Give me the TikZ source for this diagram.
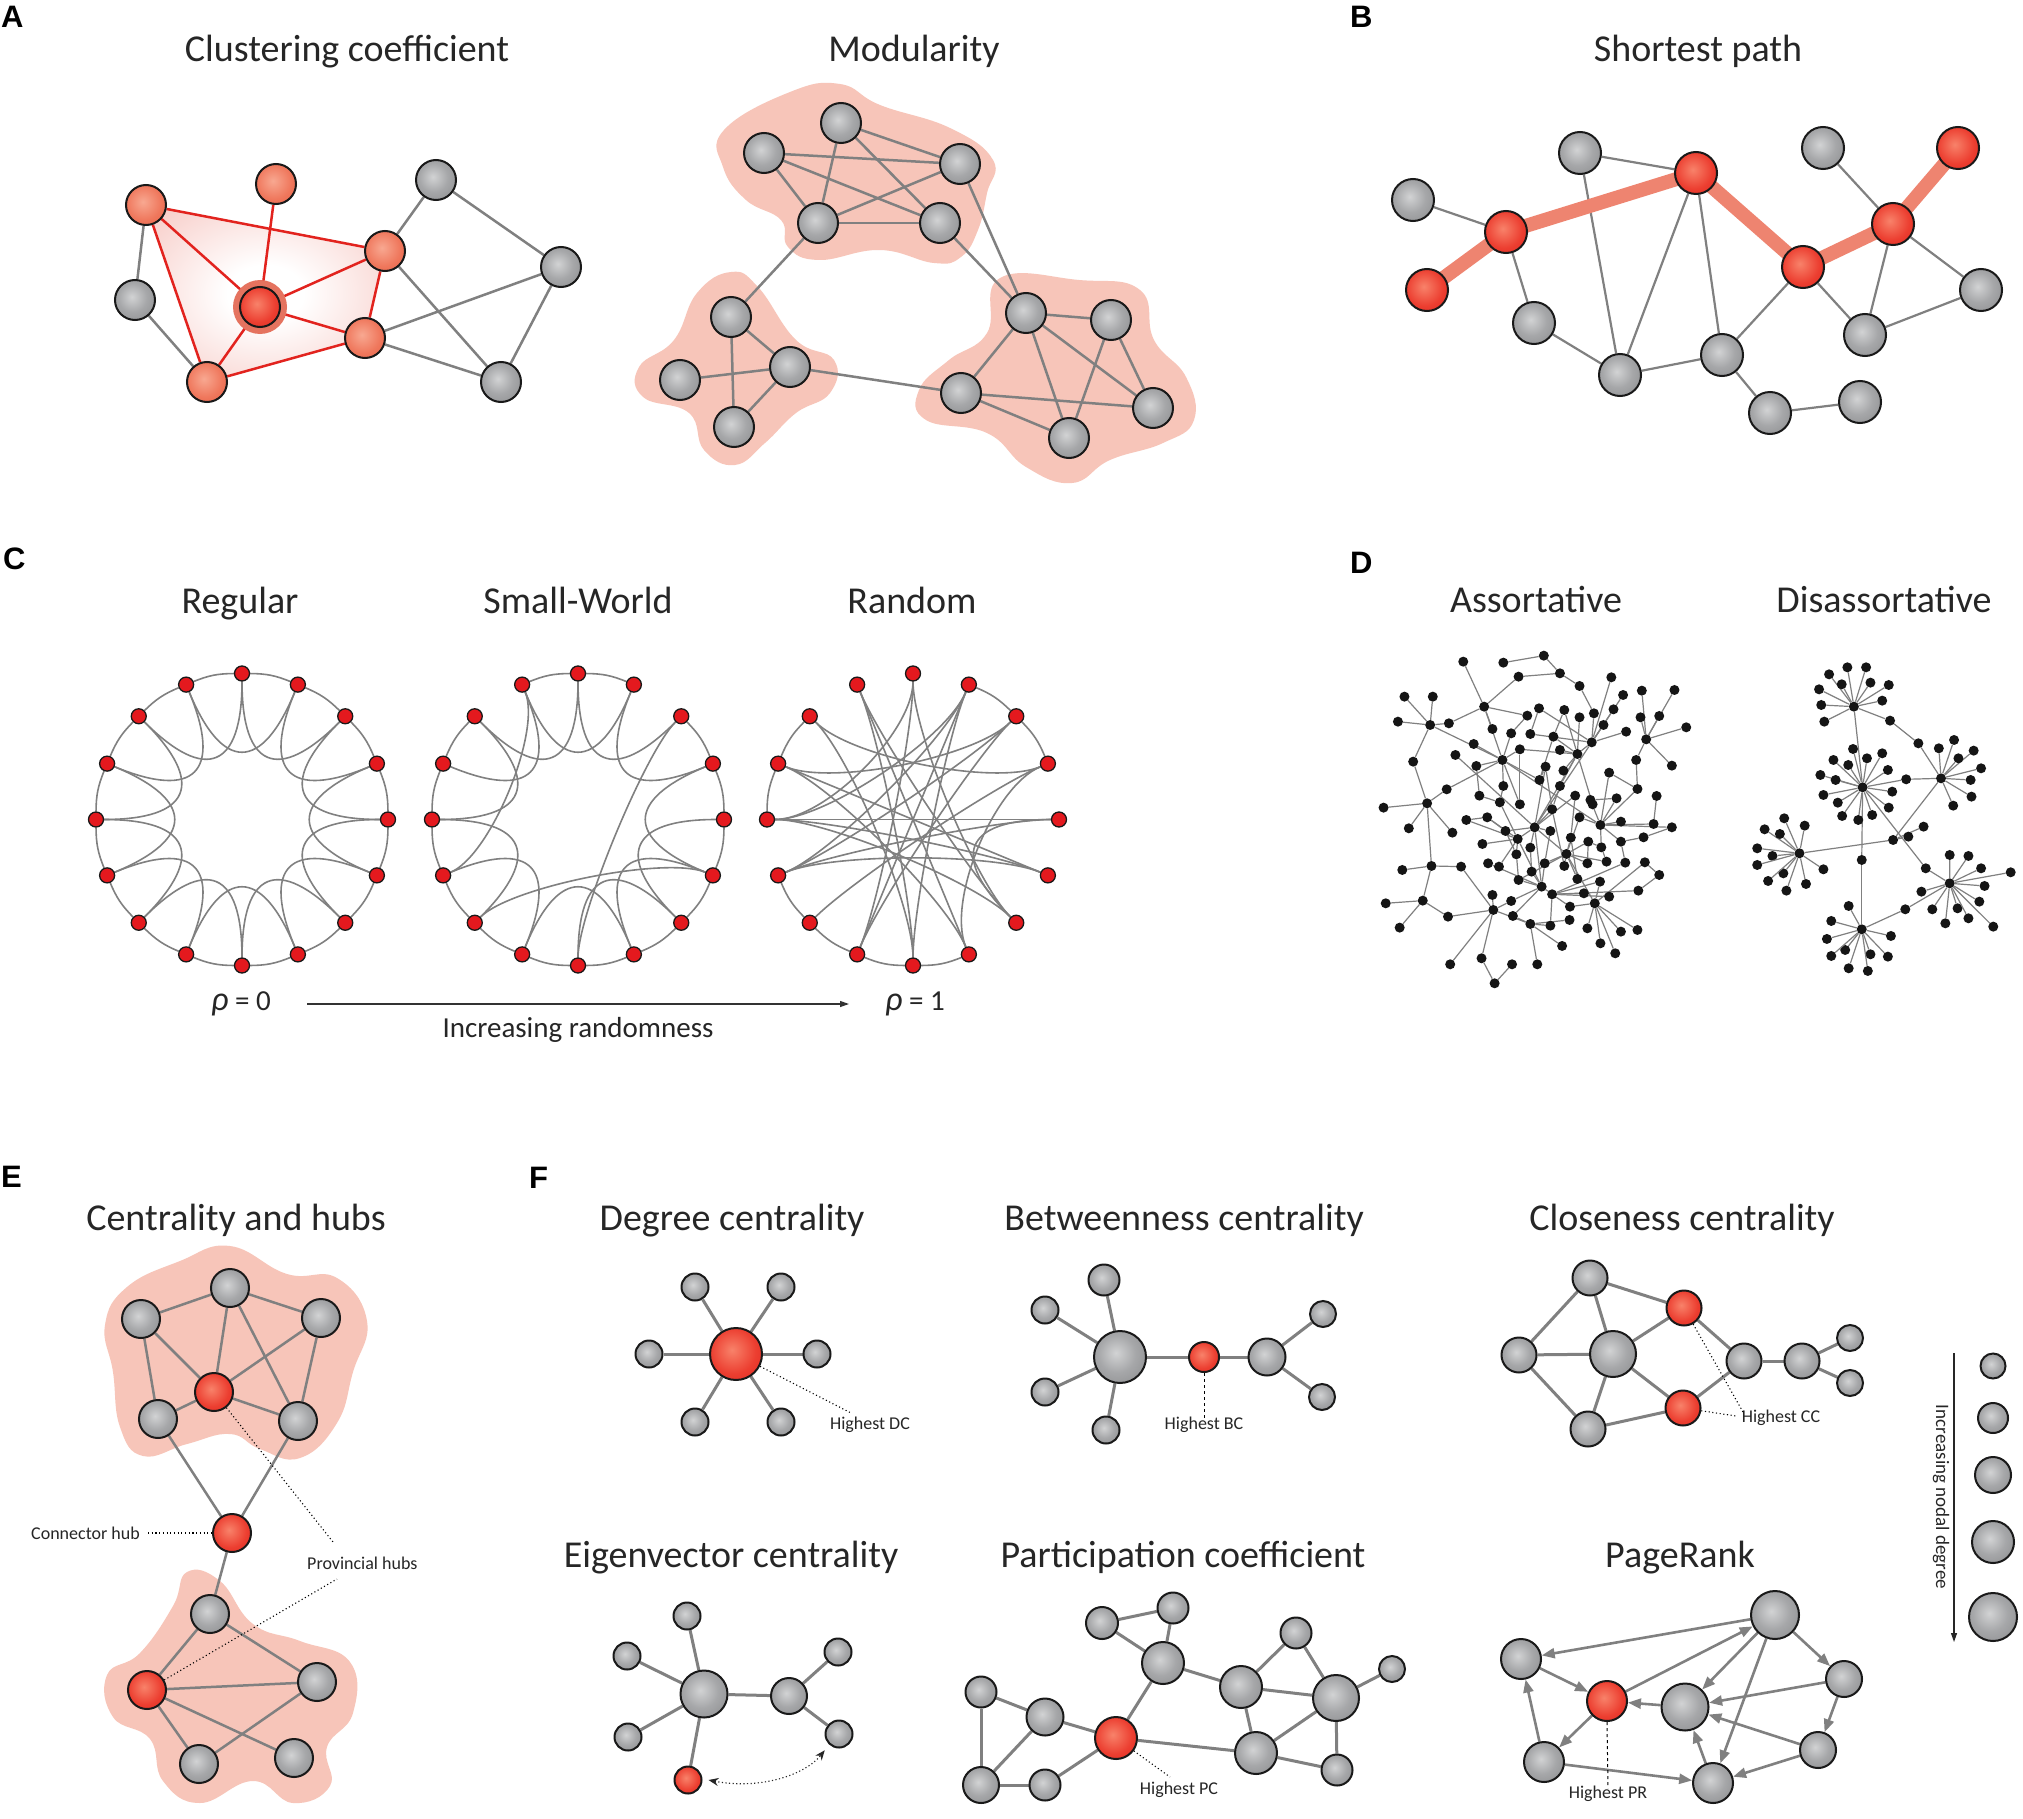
\documentclass[tikz,border=0pt]{standalone}
\usepackage{fontspec}
\setmainfont{Carlito}
\newfontfamily\letterfont{Liberation Sans}
\usetikzlibrary{arrows.meta,calc}
\pgfdeclarelayer{blob}
\pgfdeclarelayer{edge}
\pgfsetlayers{blob,edge,main}
\definecolor{gA}{HTML}{D2D3D4}
\definecolor{gM}{HTML}{A6A7A9}
\definecolor{gB}{HTML}{7A7B7D}
\definecolor{rA}{HTML}{F8826A}
\definecolor{rM}{HTML}{EC3E30}
\definecolor{rB}{HTML}{D61C1A}
\definecolor{oA}{HTML}{F8A891}
\definecolor{oM}{HTML}{EF775C}
\definecolor{oB}{HTML}{E35236}
\definecolor{edgegray}{HTML}{808080}
\definecolor{blobpink}{HTML}{F7C5B9}
\definecolor{pathsalmon}{HTML}{EE8470}
\definecolor{cliquered}{HTML}{E2231E}
\definecolor{polypink}{HTML}{F2AAA2}
\definecolor{haloA}{HTML}{E5735F}
\definecolor{haloB}{HTML}{FAE3DF}
\definecolor{dotred}{HTML}{E4191E}
\definecolor{dotblack}{HTML}{151515}
\pgfdeclareradialshading{gsph}{\pgfpoint{-4bp}{4bp}}{color(0bp)=(gA); color(18bp)=(gM); color(50bp)=(gB); color(80bp)=(gB)}
\pgfdeclareradialshading{rsph}{\pgfpoint{-4bp}{4bp}}{color(0bp)=(rA); color(22bp)=(rM); color(50bp)=(rB); color(80bp)=(rB)}
\pgfdeclareradialshading{osph}{\pgfpoint{-4bp}{4bp}}{color(0bp)=(oA); color(22bp)=(oM); color(50bp)=(oB); color(80bp)=(oB)}
\pgfdeclareradialshading{apoly}{\pgfpointorigin}{color(0bp)=(white); color(8bp)=(white); color(50bp)=(polypink); color(80bp)=(polypink)}
\pgfdeclareradialshading{halo}{\pgfpointorigin}{color(0bp)=(haloA); color(30bp)=(haloA); color(50bp)=(haloB); color(80bp)=(haloB)}
\tikzset{
  nd/.style={circle, draw=black!90, line width=2pt, inner sep=0pt, minimum size=#1},
  gn/.style={nd=#1, shade, shading=gsph},
  rn/.style={nd=#1, shade, shading=rsph},
  on/.style={nd=#1, shade, shading=osph},
  cn/.style={circle, draw=black!90, line width=1.3pt, fill=dotred, inner sep=0pt, minimum size=15pt},
  dn/.style={circle, fill=dotblack, inner sep=0pt, minimum size=10pt},
  ea/.style={draw=edgegray, line width=2.5pt},
  er/.style={draw=cliquered, line width=2.5pt},
  eb/.style={draw=edgegray, line width=2.2pt},
  ec/.style={draw=edgegray, line width=1.6pt},
  ed/.style={draw=edgegray, line width=1.2pt},
  ef/.style={draw=edgegray, line width=3pt},
  pra/.style={draw=edgegray, line width=2.6pt, -{Triangle[length=13pt,width=10pt]}},
  dotl/.style={draw=black, line width=1.1pt, dash pattern=on 1.1pt off 2.6pt},
  dashl/.style={draw=black, line width=1pt, dash pattern=on 3pt off 3pt},
  ttl/.style={font=\fontsize{38}{44}\selectfont, anchor=base, inner sep=0pt, text=black!85},
  lbl/.style={font=\fontsize{18}{21}\selectfont, inner sep=0pt, text=black!85},
  plet/.style={font=\letterfont\bfseries\fontsize{31}{34}\selectfont, anchor=base west, inner sep=0pt},
  rhot/.style={font=\fontsize{29}{32}\selectfont, anchor=base west, inner sep=0pt, text=black!85},
}
\begin{document}
\begin{tikzpicture}[x=1pt,y=-1pt]
\begin{pgfonlayer}{blob}
\fill[white] (0,0) rectangle (2023,1819);
\end{pgfonlayer}
\useasboundingbox (0,0) rectangle (2023,1819);

% ---------------- Panel letters
\node[plet] (LA) at (1,28) {A};
\node[plet] (LB) at (1350,28) {B};
\node[plet] (LC) at (3,569) {C};
\node[plet] (LD) at (1350,573) {D};
\node[plet] (LE) at (1,1187) {E};
\node[plet] (LF) at (529,1188) {F};

% ---------------- Titles
\node[ttl] (tA1) at (347,62) {Clustering coefficient};
\node[ttl] (tA2) at (914,62) {Modularity};
\node[ttl] (tB) at (1698,62) {Shortest path};
\node[ttl] (tC1) at (240,613) {Regular};
\node[ttl] (tC2) at (578,613) {Small-World};
\node[ttl] (tC3) at (912,613) {Random};
\node[ttl] (tD1) at (1536,612) {Assortative};
\node[ttl] (tD2) at (1884,612) {Disassortative};
\node[ttl] (tE) at (236,1230) {Centrality and hubs};
\node[ttl] (tF1) at (732,1230) {Degree centrality};
\node[ttl] (tF2) at (1184,1230) {Betweenness centrality};
\node[ttl] (tF3) at (1682,1230) {Closeness centrality};
\node[ttl] (tF4) at (731,1567) {Eigenvector centrality};
\node[ttl] (tF5) at (1183,1567) {Participation coefficient};
\node[ttl] (tF6) at (1680,1567) {PageRank};

% ---------------- Panel A: clustering
\node[on=40pt] (A1) at (146,205) {};
\node[on=40pt] (A2) at (276,184) {};
\node[gn=40pt] (A3) at (436,180) {};
\node[on=40pt] (A4) at (385,251) {};
\node[gn=40pt] (A5) at (561,267) {};
\node[gn=40pt] (A6) at (135,300) {};
\node[rn=40pt] (A7) at (260,307) {};
\node[on=40pt] (A8) at (365,338) {};
\node[on=40pt] (A9) at (207,382) {};
\node[gn=40pt] (A10) at (501,382) {};
\begin{pgfonlayer}{blob}
\shade[shading=apoly] (A1.center) -- (A4.center) -- (A8.center) -- (A9.center) -- cycle;
\end{pgfonlayer}
\begin{pgfonlayer}{edge}
\foreach \a/\b in {A1/A6,A6/A9,A4/A3,A3/A5,A4/A10,A8/A5,A8/A10,A5/A10} \draw[ea] (\a) -- (\b);
\foreach \a/\b in {A1/A4,A1/A7,A1/A9,A2/A7,A4/A7,A4/A8,A7/A8,A7/A9,A9/A8} \draw[er] (\a) -- (\b);
\shade[shading=halo] (A7.center) circle[radius=27pt];
\end{pgfonlayer}

% ---------------- Panel A: modularity
\foreach \n/\x/\y in {M1/841/123,M2/764/153,M3/960/164,M4/818/223,M5/940/223,
  ML1/731/317,ML2/680/380,ML3/790/367,ML4/734/427,
  MR1/1026/313,MR2/1111/320,MR3/961/393,MR4/1153/408,MR5/1069/438}
  \node[gn=40pt] (\n) at (\x,\y) {};
\begin{pgfonlayer}{blob}
\fill[blobpink] plot[smooth cycle, tension=0.75] coordinates {(724,130) (790,92) (840,84) (880,105) (950,128) (993,160) (987,193) (978,230) (961,257) (934,263) (880,250) (819,260) (788,247) (781,220) (746,200) (723,167)};
\fill[blobpink] plot[smooth cycle, tension=0.75] coordinates {(731,272) (758,287) (796,340) (834,360) (830,393) (796,413) (765,443) (735,465) (704,450) (689,413) (643,397) (639,367) (674,340) (697,293)};
\fill[blobpink] plot[smooth cycle, tension=0.75] coordinates {(1000,278) (1079,280) (1140,290) (1154,340) (1186,377) (1194,420) (1163,443) (1110,460) (1072,483) (1026,467) (987,433) (926,420) (919,390) (949,360) (987,333)};
\end{pgfonlayer}
\begin{pgfonlayer}{edge}
\foreach \a/\b in {M1/M3,M1/M4,M1/M5,M2/M3,M2/M4,M2/M5,M3/M4,M4/M5,
  ML1/ML3,ML1/ML4,ML2/ML3,ML3/ML4,
  MR1/MR2,MR1/MR3,MR1/MR5,MR1/MR4,MR2/MR5,MR2/MR4,MR3/MR4,MR3/MR5,
  M4/ML1,M5/MR1,M3/MR1,ML3/MR3} \draw[ea] (\a) -- (\b);
\end{pgfonlayer}

% ---------------- Panel B: shortest path
\foreach \n/\x/\y in {B1/1413/200,B4/1534/323,B5/1580/153,B6/1620/375,B8/1722/355,B9/1770/413,B10/1860/402,B12/1823/148,B15/1865/335,B16/1981/290}
  \node[gn=42pt] (\n) at (\x,\y) {};
\foreach \n/\x/\y in {B2/1427/290,B3/1506/232,B7/1696/173,B11/1803/267,B13/1893/224,B14/1958/148}
  \node[rn=42pt] (\n) at (\x,\y) {};
\begin{pgfonlayer}{edge}
\foreach \a/\b in {B1/B3,B3/B4,B4/B6,B5/B7,B5/B6,B7/B6,B7/B8,B6/B8,B8/B9,B9/B10,B8/B11,B11/B15,B13/B15,B12/B13,B13/B16,B15/B16} \draw[eb] (\a) -- (\b);
\draw[pathsalmon, line width=14pt, line join=round] (B2.center) -- (B3.center) -- (B7.center) -- (B11.center) -- (B13.center) -- (B14.center);
\end{pgfonlayer}

% ---------------- Panel C: rings
\foreach \cx/\nm in {242/cr, 578/cs, 913/cq} {
  \coordinate (\nm-c) at (\cx,819.5);
  \foreach \k in {0,...,15}
    \node[cn] (\nm-\k) at ($(\nm-c)+({-90+22.5*\k}:146)$) {};
}
\begin{pgfonlayer}{edge}
\foreach \k in {0,...,15}{
  \pgfmathtruncatemacro\ka{mod(\k+1,16)}
  \pgfmathtruncatemacro\kb{mod(\k+2,16)}
  \draw[ec] (cr-\k) to[bend left=11] (cr-\ka);
  \draw[ec] (cr-\k) .. controls ($(cr-\k)!0.65!(cr-c)$) and ($(cr-\kb)!0.65!(cr-c)$) .. (cr-\kb);
}
\foreach \a/\b in {0/1,2/3,3/4,4/5,5/6,6/7,7/8,8/9,9/10,10/11,11/12,12/13,13/14,15/0}
  \draw[ec] (cs-\a) to[bend left=11] (cs-\b);
\foreach \a/\b in {0/2,1/3,3/5,4/6,5/7,6/8,7/9,9/11,10/12,12/14,13/15,14/0,15/1}
  \draw[ec] (cs-\a) .. controls ($(cs-\a)!0.65!(cs-c)$) and ($(cs-\b)!0.65!(cs-c)$) .. (cs-\b);
\foreach \a/\b in {2/8,11/15,10/5}
  \draw[ec] (cs-\a) .. controls ($(cs-\a)!0.35!(cs-c)$) and ($(cs-\b)!0.35!(cs-c)$) .. (cs-\b);
\foreach \a/\b in {1/2,2/3,7/8,8/9,9/10,10/11,12/13,13/14}
  \draw[ec] (cq-\a) to[bend left=11] (cq-\b);
\foreach \a/\b in {4/6}
  \draw[ec] (cq-\a) .. controls ($(cq-\a)!0.65!(cq-c)$) and ($(cq-\b)!0.65!(cq-c)$) .. (cq-\b);
\foreach \a/\b in {14/3,13/2,13/5,13/7,12/4,12/1,12/5,12/6,11/1,11/2,11/4,10/3,9/0,9/1,8/15,8/1,15/6,15/7,3/7,5/11,14/8,6/0,0/12,2/9}
  \draw[ec] (cq-\a) .. controls ($(cq-\a)!0.4!(cq-c)$) and ($(cq-\b)!0.4!(cq-c)$) .. (cq-\b);
\end{pgfonlayer}
\node[rhot] (rho0) at (211,1010) {{\fontsize{34}{36}\selectfont\itshape ρ} = 0};
\node[rhot] (rho1) at (885,1010) {{\fontsize{34}{36}\selectfont\itshape ρ} = 1};
\node[font=\fontsize{29}{32}\selectfont, anchor=base, inner sep=0pt, text=black!85] (incr) at (578,1037) {Increasing randomness};
\coordinate (arS) at (307,1004);
\coordinate (arE) at (849,1004);
\draw[black!80, line width=1.2pt, -{Triangle[length=9pt,width=6pt]}] (arS) -- (arE);

% ---------------- Panel D
\begin{scope}[shift={(1340,540)}, xscale=0.4355, yscale=0.3333]
\foreach \n/\x/\y in {a1/283/365,a2/375/368,a3/468/347,a4/410/410,a5/505/400,a6/623/412,a7/148/470,a8/213/470,a9/550/438,a10/650/465,
a11/693/452,a12/768/450,a13/331/500,a14/457/505,a15/515/510,a16/430/527,a17/550/532,a18/583/520,a19/628/508,a20/690/532,
a21/733/528,a22/133/545,a23/207/555,a24/250/550,a25/350/567,a26/393/580,a27/437/582,a28/490/590,a29/605/555,a30/657/575,
a31/703/598,a32/795/562,a33/578/607,a34/307/612,a35/265/645,a36/413/628,a37/505/630,a38/545/642,a39/373/660,a40/313/678,
a41/472/680,a42/513/692,a43/680/660,a44/762/677,a45/168/665,a46/618/698,a47/458/720,a48/245/748,a49/375/738,a50/505/738,
a51/320/767,a52/540/767,a53/575/780,a54/683/747,a55/727/768,a56/200/790,a57/100/803,a58/367/787,a59/413/793,a60/487/808,
a61/580/793,a62/635/775,a63/290/840,a64/338/832,a65/550/832,a66/598/855,a67/645/845,a68/720/852,a69/762/862,a70/158/865,
a71/258/878,a72/380/873,a73/447/862,a74/483/873,a75/530/893,a76/697/892,a77/408/897,a78/327/912,a79/437/923,a80/570/905,
a81/600/922,a82/645/905,a83/520/942,a84/405/943,a85/340/970,a86/365/980,a87/470/970,a88/515/978,a89/568/970,a90/612/965,
a91/655/968,a92/700/967,a93/210/978,a94/143/990,a95/278/980,a96/733/1005,a97/410/1020,a98/440/995,a99/545/1017,a100/597/1025,
a101/463/1040,a102/350/1065,a103/487/1063,a104/560/1060,a105/618/1070,a106/685/1052,a107/105/1090,a108/190/1082,a109/393/1083,a110/528/1100,
a111/585/1090,a112/248/1130,a113/352/1110,a114/397/1128,a115/437/1152,a116/483/1157,a117/527/1140,a118/568/1165,a119/137/1163,a120/645/1175,
a121/683/1170,a122/510/1218,a123/598/1210,a124/632/1240,a125/253/1273,a126/325/1255,a127/395/1273,a128/453/1273,a129/355/1330}
  \node[dn] (\n) at (\x,\y) {};
% disassortative hubs
\foreach \n/\x/\y in {h1/1180/500,h2/1200/742,h3/1380/715,h4/1055/940,h5/1400/1030,h6/1198/1168,j1/1270/900,j2/1305/890,j3/1340/860,j4/1198/960}
  \node[dn] (\n) at (\x,\y) {};
\foreach \x/\y [count=\i] in {1123/403,1165/382,1208/382,1152/433,1218/428,1260/435,1100/448,1245/482,1105/495,1112/545,1263/542}
  {\node[dn] (h1l\i) at (\x,\y) {}; \draw[ed] (h1) -- (h1l\i);}
\foreach \x/\y [count=\i] in {1178/627,1210/655,1245/640,1133/660,1167/675,1258/690,1103/705,1138/720,1268/755,1110/765,1143/788,1260/803,1153/828,1190/840,1222/825,1300/718}
  {\node[dn] (h2l\i) at (\x,\y) {}; \draw[ed] (h2) -- (h2l\i);}
\foreach \x/\y [count=\i] in {1375/625,1410/600,1455/632,1420/655,1472/685,1448/720,1450/770,1408/797,1328/610}
  {\node[dn] (h3l\i) at (\x,\y) {}; \draw[ed] (h3) -- (h3l\i);}
\foreach \x/\y [count=\i] in {1020/835,975/868,1010/882,1067/857,958/925,993/948,958/975,1018/1000,983/1023,1025/1052,1070/1032,1110/988}
  {\node[dn] (h4l\i) at (\x,\y) {}; \draw[ed] (h4) -- (h4l\i);}
\foreach \x/\y [count=\i] in {1400/945,1443/948,1472/985,1540/997,1480/1038,1335/1055,1468/1085,1418/1105,1360/1108,1390/1150,1443/1135,1500/1160,1345/985,1298/1108}
  {\node[dn] (h5l\i) at (\x,\y) {}; \draw[ed] (h5) -- (h5l\i);}
\foreach \x/\y [count=\i] in {1168/1098,1128/1143,1265/1188,1118/1197,1160/1230,1128/1248,1218/1243,1258/1250,1168/1285,1212/1293}
  {\node[dn] (h6l\i) at (\x,\y) {}; \draw[ed] (h6) -- (h6l\i);}
\end{scope}
\begin{pgfonlayer}{edge}
\foreach \a/\b in {h1/h2,h1l11/h3l9,h2l16/h3,h3/j1,j1/h4,j1/j2,j1/j3,h2/h5l13,h2/j4,j4/h6,h6/h5l14,
a13/a1,a13/a4,a13/a24,a13/a16,a13/a25,a13/a39,
a23/a7,a23/a8,a23/a22,a23/a24,a23/a45,a23/a39,
a39/a34,a39/a26,a39/a36,a39/a40,a39/a48,a39/a47,a39/a59,a39/a49,
a33/a6,a33/a18,a33/a19,a33/a29,a33/a30,a33/a38,a33/a27,a33/a10,
a31/a12,a31/a21,a31/a32,a31/a20,a31/a44,a31/a43,a31/a11,
a38/a15,a38/a17,a38/a28,a38/a37,a38/a36,a38/a50,a38/a42,a38/a61,
a56/a45,a56/a57,a56/a70,a56/a48,a56/a93,a56/a71,
a66/a62,a66/a54,a66/a67,a66/a68,a66/a65,a66/a82,a66/a81,a66/a53,a66/a46,a66/a69,
a73/a72,a73/a74,a73/a79,a73/a60,a73/a77,a73/a83,a73/a52,a73/a41,a73/a35,
a77/a78,a77/a84,a77/a64,a77/a58,a77/a86,a77/a63,
a83/a75,a83/a80,a83/a89,a83/a87,a83/a88,a83/a99,a83/a65,a83/a90,a83/a97,
a101/a98,a101/a97,a101/a114,a101/a87,a101/a103,a101/a85,a101/a109,
a103/a104,a103/a110,a103/a116,a103/a106,a103/a105,a103/a100,a103/a91,
a111/a110,a111/a118,a111/a120,a111/a121,a111/a123,a111/a124,a111/a100,a111/a92,
a115/a114,a115/a113,a115/a122,a115/a128,a115/a116,a115/a117,
a113/a102,a113/a109,a113/a126,a113/a125,a113/a112,a113/a95,
a108/a107,a108/a119,a108/a93,a108/a112,
a93/a94,a93/a95,a129/a126,a129/a127,a2/a3,a3/a5,a4/a5,a5/a9,a9/a18,a43/a54,a55/a68,a96/a92,a76/a82,a69/a76,
a51/a58,a64/a63,a72/a64,a14/a27,a16/a26,a47/a41,a49/a58,a53/a61,a80/a81,a106/a96,a91/a82,a40/a51,
a33/a73,a38/a73,a39/a66,a77/a101,a83/a111,a73/a101,a28/a47,a41/a60,a60/a88,a74/a87,a79/a98,a75/a99,a52/a75,a50/a60,
a72/a84,a84/a97,a80/a89,a81/a90,a46/a54,a62/a53,a14/a33,a15/a28,a36/a59}
  \draw[ed] (\a) -- (\b);
\end{pgfonlayer}

% ---------------- Panel E
\foreach \n/\x/\y in {E1/230/1288,E2/141/1319,E3/321/1318,E5/158/1419,E6/298/1421,E8/210/1614,E10/317/1682,E11/199/1764,E12/294/1758}
  \node[gn=38pt] (\n) at (\x,\y) {};
\foreach \n/\x/\y in {E4/214/1392,E7/232/1533,E9/147/1690}
  \node[rn=38pt] (\n) at (\x,\y) {};
\begin{pgfonlayer}{blob}
\fill[blobpink] plot[smooth cycle, tension=0.75] coordinates {(230,1246) (287,1274) (337,1278) (367,1321) (353,1372) (337,1423) (300,1458) (260,1449) (230,1434) (187,1444) (143,1456) (120,1427) (113,1372) (105,1325) (127,1287) (180,1261)};
\fill[blobpink] plot[smooth cycle, tension=0.75] coordinates {(187,1572) (220,1581) (253,1624) (300,1641) (350,1662) (353,1713) (327,1747) (330,1786) (293,1803) (253,1781) (200,1803) (163,1781) (150,1739) (113,1717) (107,1675) (140,1653) (173,1606)};
\end{pgfonlayer}
\begin{pgfonlayer}{edge}
\foreach \a/\b in {E1/E2,E1/E4,E1/E3,E1/E6,E2/E4,E2/E5,E4/E3,E4/E5,E4/E6,E3/E6,E5/E7,E6/E7,E7/E8,E8/E9,E8/E10,E9/E10,E9/E11,E9/E12,E11/E10}
  \draw[ea] (\a) -- (\b);
\end{pgfonlayer}
\node[lbl, anchor=west] (lconn) at (31,1533) {Connector hub};
\node[lbl, anchor=west] (lprov) at (307,1563) {Provincial hubs};
\coordinate (ph1) at (333,1542);
\coordinate (ph2) at (337,1579);
\draw[dotl] ([xshift=8pt]lconn.east) -- (E7);
\draw[dotl] (E4) -- (ph1);
\draw[dotl] (E9) -- (ph2);

% ---------------- Panel F: degree
\node[rn=52pt] (FDr) at (736,1354) {};
\foreach \n/\x/\y in {FD1/695/1287,FD2/781/1287,FD3/649/1354,FD4/817/1354,FD5/695/1422,FD6/781/1422}
  {\node[gn=27pt] (\n) at (\x,\y) {};}
\begin{pgfonlayer}{edge}
\foreach \n in {FD1,FD2,FD3,FD4,FD5,FD6} \draw[ef] (FDr) -- (\n);
\end{pgfonlayer}
\node[lbl] (hdc) at (870,1425) {Highest DC};
\coordinate (fdd) at (851,1413);
\draw[dotl] (FDr) -- (fdd);

% ---------------- betweenness
\node[gn=52pt] (FBb) at (1120,1357) {};
\node[rn=30pt] (FBr) at (1204,1357) {};
\node[gn=37pt] (FBg) at (1267,1357) {};
\node[gn=31pt] (FB1) at (1104,1280) {};
\node[gn=27pt] (FB2) at (1045,1310) {};
\node[gn=27pt] (FB3) at (1045,1392) {};
\node[gn=27pt] (FB4) at (1106,1430) {};
\node[gn=26pt] (FB5) at (1323,1314) {};
\node[gn=26pt] (FB6) at (1322,1397) {};
\begin{pgfonlayer}{edge}
\foreach \a/\b in {FBb/FB1,FBb/FB2,FBb/FB3,FBb/FB4,FBb/FBr,FBr/FBg,FBg/FB5,FBg/FB6} \draw[ef] (\a) -- (\b);
\end{pgfonlayer}
\node[lbl] (hbc) at (1204,1425) {Highest BC};
\draw[dashl] (FBr.south) -- ([yshift=-2pt]hbc.north);

% ---------------- closeness
\node[gn=35pt] (FC1) at (1590,1278) {};
\node[gn=35pt] (FC2) at (1519,1355) {};
\node[gn=46pt] (FC3) at (1613,1354) {};
\node[gn=35pt] (FC4) at (1588,1429) {};
\node[rn=35pt] (FC5) at (1684,1308) {};
\node[rn=35pt] (FC6) at (1683,1408) {};
\node[gn=35pt] (FC7) at (1744,1361) {};
\node[gn=35pt] (FC8) at (1802,1361) {};
\node[gn=26pt] (FC9) at (1850,1338) {};
\node[gn=26pt] (FC10) at (1850,1383) {};
\begin{pgfonlayer}{edge}
\foreach \a/\b in {FC1/FC2,FC1/FC3,FC1/FC5,FC2/FC3,FC2/FC4,FC3/FC4,FC3/FC5,FC3/FC6,FC4/FC6,FC5/FC7,FC6/FC7,FC7/FC8,FC8/FC9,FC8/FC10} \draw[ef] (\a) -- (\b);
\end{pgfonlayer}
\node[lbl] (hcc) at (1781,1418) {Highest CC};
\coordinate (fcc1) at (1743,1412);
\coordinate (fcc2) at (1736,1416);
\draw[dotl] (FC5) -- (fcc1);
\draw[dotl] (FC6) -- (fcc2);

% ---------------- legend
\foreach \n/\y/\s in {FL1/1366/25,FL2/1418/30,FL3/1475/36,FL4/1542/42,FL5/1617/48}
  \node[gn=\s pt] (\n) at (1993,\y) {};
\coordinate (lgA) at (1954,1353);
\coordinate (lgB) at (1954,1642);
\draw[black!85, line width=1.2pt, -{Triangle[length=9pt,width=6pt]}] (lgA) -- (lgB);
\node[lbl, rotate=-90, font=\fontsize{19}{22}\selectfont] (lgT) at (1941,1497) {Increasing nodal degree};

% ---------------- eigenvector
\node[gn=47pt] (FE0) at (704,1694) {};
\node[gn=27pt] (FE1) at (687,1616) {};
\node[gn=27pt] (FE2) at (627,1656) {};
\node[gn=27pt] (FE3) at (628,1737) {};
\node[rn=27pt] (FEr) at (688,1780) {};
\node[gn=36pt] (FEm) at (789,1696) {};
\node[gn=27pt] (FE5) at (838,1652) {};
\node[gn=27pt] (FE6) at (839,1734) {};
\begin{pgfonlayer}{edge}
\foreach \a/\b in {FE0/FE1,FE0/FE2,FE0/FE3,FE0/FEr,FE0/FEm,FEm/FE5,FEm/FE6} \draw[ef] (\a) -- (\b);
\end{pgfonlayer}
\draw[black!85, line width=1.1pt, dash pattern=on 1.2pt off 2.4pt, {Stealth[length=10pt,width=8pt]}-{Stealth[length=10pt,width=8pt]}]
  ([xshift=6pt]FEr.east) .. controls (760,1790) and (805,1775) .. ([shift={(-4pt,-6pt)}]FE6.south west);

% ---------------- participation
\foreach \n/\x/\y/\s in {FP1/1102/1623/32,FP2/1173/1608/31,FP3/1163/1663/42,FP4/981/1692/31,FP5/1045/1717/37,FP7/981/1785/36,FP8/1045/1785/31,
  FP9/1241/1687/42,FP10/1296/1633/31,FP11/1392/1669/26,FP12/1336/1698/46,FP13/1256/1753/42,FP14/1337/1770/31}
  \node[gn=\s pt] (\n) at (\x,\y) {};
\node[rn=42pt] (FP6) at (1116,1738) {};
\begin{pgfonlayer}{edge}
\foreach \a/\b in {FP1/FP2,FP1/FP3,FP2/FP3,FP3/FP6,FP3/FP9,FP4/FP5,FP4/FP7,FP5/FP6,FP5/FP7,FP7/FP8,FP8/FP6,FP6/FP13,FP9/FP10,FP9/FP12,FP9/FP13,FP10/FP12,FP12/FP11,FP12/FP13,FP12/FP14,FP13/FP14}
  \draw[ef] (\a) -- (\b);
\end{pgfonlayer}
\node[lbl] (hpc) at (1179,1790) {Highest PC};
\coordinate (fpc) at (1170,1777);
\draw[dotl] (FP6) -- (fpc);

% ---------------- pagerank
\node[gn=40pt] (FQ1) at (1521,1659) {};
\node[rn=40pt] (FQ2) at (1607,1701) {};
\node[gn=47pt] (FQ3) at (1685,1707) {};
\node[gn=48pt] (FQ4) at (1775,1615) {};
\node[gn=36pt] (FQ5) at (1844,1679) {};
\node[gn=40pt] (FQ6) at (1544,1762) {};
\node[gn=40pt] (FQ7) at (1713,1783) {};
\node[gn=36pt] (FQ8) at (1818,1750) {};
\begin{pgfonlayer}{edge}
\foreach \a/\b in {FQ4/FQ1,FQ1/FQ2,FQ2/FQ4,FQ4/FQ3,FQ3/FQ2,FQ4/FQ5,FQ5/FQ3,FQ5/FQ8,FQ8/FQ3,FQ8/FQ7,FQ7/FQ3,FQ4/FQ7,FQ2/FQ6,FQ6/FQ1,FQ6/FQ7}
  \draw[pra] (\a) -- (\b);
\end{pgfonlayer}
\node[lbl] (hpr) at (1608,1794) {Highest PR};
\draw[dashl] (FQ2.south) -- ([yshift=-2pt]hpr.north);
\end{tikzpicture}
\end{document}
